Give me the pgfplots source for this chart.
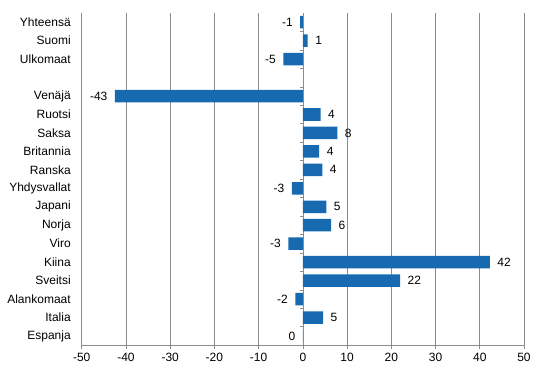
\documentclass[border=0pt]{standalone}
\usepackage{pgfplots}
\pgfplotsset{compat=1.18}
\usepackage{pgfplotstable}
\usepackage{fontspec}
\setmainfont{Liberation Sans}
\definecolor{barblue}{RGB}{23,105,176}
\definecolor{gridgray}{RGB}{140,140,140}
\pgfplotstableread{
y val lab
16 1.1 1
12 4.0 4
11 7.8 8
10 3.7 4
9 4.4 4
7 5.3 5
6 6.4 6
4 42.3 42
3 22.0 22
1 4.6 5
}\pos
\pgfplotstableread{
y val lab
17 -0.6 -1
15 -4.4 -5
13 -42.5 -43
8 -2.5 -3
5 -3.3 -3
2 -1.7 -2
0 0 0
}\negs
\begin{document}
\begin{tikzpicture}
\begin{axis}[
  scale only axis, width=442pt, height=332pt,
  xmin=-50, xmax=50, ymin=-0.5, ymax=17.5,
  xtick={-50,-40,...,50},
  ytick={0,1,2,3,4,5,6,7,8,9,10,11,12,13,15,16,17},
  yticklabels={Espanja,Italia,Alankomaat,Sveitsi,Kiina,Viro,Norja,Japani,Yhdysvallat,Ranska,Britannia,Saksa,Ruotsi,Venäjä,Ulkomaat,Suomi,Yhteensä},
  axis x line*=bottom, axis y line*=left,
  axis line style={gridgray, line width=0.6pt},
  xmajorgrids, grid style={gridgray, line width=0.6pt},
  x tick style={gridgray, line width=0.6pt}, tick align=outside,
  major tick length=3.5pt,
  y tick style={draw=none},
  /pgf/number format/assume math mode=true,
  tick label style={font=\fontsize{12}{14}\selectfont, text=black},
  yticklabel style={xshift=-4pt},
  xticklabel style={yshift=-1pt},
  xbar, bar width=12.5pt, bar shift=0pt,
  point meta=explicit,
  nodes near coords={\pgfmathprintnumber{\pgfplotspointmeta}},
  nodes near coords style={font=\fontsize{12}{14}\selectfont, text=black},
]
\addplot[fill=barblue, draw=none, nodes near coords style={anchor=west, xshift=4pt}] table[x=val, y=y, meta=lab] {\pos};
\addplot[fill=barblue, draw=none, nodes near coords style={anchor=east, xshift=-4pt}] table[x=val, y=y, meta=lab] {\negs};
\pgfplotsinvokeforeach{0,...,16}{\draw[gridgray, line width=0.6pt] (axis cs:0,#1+0.5) -- ++(-3pt,0pt);}
\end{axis}
\path ([shift={(-81.7pt,-29pt)}]current axis.south west) rectangle ([shift={(20pt,13pt)}]current axis.north east);
\end{tikzpicture}
\end{document}
